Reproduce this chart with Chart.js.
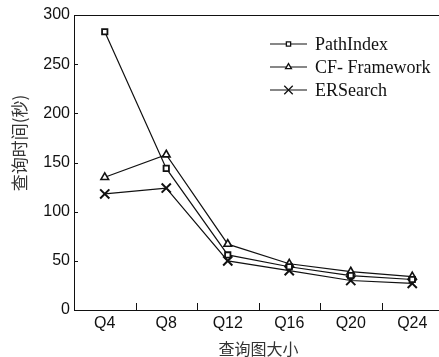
<!DOCTYPE html>
<html>
<head>
<meta charset="utf-8">
<script src="https://cdn.jsdelivr.net/npm/chart.js@4/dist/chart.umd.min.js"></script>
<style>
  html, body { margin: 0; padding: 0; background: #fff; overflow: hidden; }
  #wrap { position: absolute; left: 0; top: 0; width: 460px; height: 357px; }
</style>
</head>
<body>
<div id="wrap"><canvas id="c" width="460" height="357"></canvas></div>
<script>
// Query graph sizes on the x axis
const categories = ['Q4', 'Q8', 'Q12', 'Q16', 'Q20', 'Q24'];

// Query time in seconds for each method
const pathIndex   = [283, 144, 56, 44, 35, 31];
const cfFramework = [135, 158, 67, 47, 39, 34];
const erSearch    = [118, 124, 50, 40, 30, 27];

const yTicks = [0, 50, 100, 150, 200, 250, 300];
const seriesNames = ['PathIndex', 'CF- Framework', 'ERSearch'];
const xTitle = '查询图大小';
const yTitle = '查询时间(秒)';

const tickFont = { family: '"Liberation Sans", Arial, sans-serif', size: 16 };
const legendFont = '18px "Liberation Serif", "Times New Roman", serif';
const xTitleFont = '16px "Noto Sans CJK SC", sans-serif';
const yTitleFont = '17px "Noto Sans CJK SC", sans-serif';

const markers = [
  { pointStyle: 'rect',     radius: 3.8, borderWidth: 1.8, legendRadius: 3 },
  { pointStyle: 'triangle', radius: 4.4, borderWidth: 1.6, legendRadius: 3.4 },
  { pointStyle: 'crossRot', radius: 6.5, borderWidth: 2,   legendRadius: 6 }
];

function makeDataset(name, values, m) {
  return {
    label: name,
    data: values,
    borderColor: '#111',
    borderWidth: 1.2,
    backgroundColor: '#fff',
    pointStyle: m.pointStyle,
    pointRadius: m.radius,
    pointHoverRadius: m.radius,
    pointBorderWidth: m.borderWidth,
    pointBorderColor: '#111',
    pointBackgroundColor: '#fff',
    tension: 0,
    fill: false
  };
}

// Frame, inward ticks, in-plot legend and axis titles
const decorations = {
  id: 'decorations',
  afterDraw(chart) {
    const { ctx, chartArea: a, scales } = chart;
    const xs = scales.x, ys = scales.y;
    ctx.save();
    ctx.strokeStyle = '#111';
    ctx.lineWidth = 1;

    // top frame line
    ctx.beginPath();
    ctx.moveTo(a.left, Math.round(a.top) + 0.5);
    ctx.lineTo(chart.width, Math.round(a.top) + 0.5);
    ctx.stroke();

    // inward y ticks
    yTicks.forEach(v => {
      const y = Math.round(ys.getPixelForValue(v)) + 0.5;
      ctx.beginPath();
      ctx.moveTo(a.left, y);
      ctx.lineTo(a.left + 4, y);
      ctx.stroke();
    });

    // inward x ticks between categories
    for (let i = 0; i < categories.length - 1; i++) {
      const x = Math.round((xs.getPixelForValue(i) + xs.getPixelForValue(i + 1)) / 2) + 0.5;
      ctx.beginPath();
      ctx.moveTo(x, a.bottom);
      ctx.lineTo(x, a.bottom - 7);
      ctx.stroke();
    }

    // legend
    const rowsY = [44, 67, 90];
    const lx0 = 270, lx1 = 307, tx = 315;
    chart.data.datasets.forEach((ds, i) => {
      const y = rowsY[i];
      ctx.strokeStyle = '#111';
      ctx.lineWidth = 1.2;
      ctx.beginPath();
      ctx.moveTo(lx0, y);
      ctx.lineTo(lx1, y);
      ctx.stroke();
      const m = markers[i];
      ctx.fillStyle = '#fff';
      ctx.lineWidth = 1.3;
      Chart.helpers.drawPoint(ctx, {
        pointStyle: m.pointStyle,
        radius: m.legendRadius,
        rotation: 0,
        borderWidth: 1.3
      }, (lx0 + lx1) / 2, y);
      ctx.fillStyle = '#111';
      ctx.font = legendFont;
      ctx.textAlign = 'left';
      ctx.textBaseline = 'middle';
      ctx.fillText(ds.label, tx, y + 1);
    });

    // axis titles
    ctx.fillStyle = '#333';
    ctx.textAlign = 'center';
    ctx.textBaseline = 'middle';
    ctx.font = xTitleFont;
    ctx.fillText(xTitle, (a.left + a.right) / 2, 349);

    ctx.font = yTitleFont;
    ctx.translate(20, 143);
    ctx.rotate(-Math.PI / 2);
    ctx.fillText(yTitle, 0, 0);
    ctx.restore();
  }
};

new Chart(document.getElementById('c'), {
  type: 'line',
  data: {
    labels: categories,
    datasets: [
      makeDataset(seriesNames[0], pathIndex, markers[0]),
      makeDataset(seriesNames[1], cfFramework, markers[1]),
      makeDataset(seriesNames[2], erSearch, markers[2])
    ]
  },
  options: {
    responsive: false,
    animation: false,
    events: [],
    layout: { padding: { left: 0, right: 17, top: 15, bottom: 0 } },
    plugins: { legend: { display: false }, tooltip: { enabled: false } },
    scales: {
      x: {
        type: 'category',
        offset: true,
        grid: { display: false, drawTicks: false },
        border: { display: true, color: '#111', width: 1 },
        ticks: { color: '#111', font: tickFont, padding: 4, autoSkip: false, maxRotation: 0 },
        afterFit(s) { s.height = 47; }
      },
      y: {
        min: 0,
        max: 300,
        afterBuildTicks(s) { s.ticks = yTicks.map(v => ({ value: v })); },
        grid: { display: false, drawTicks: false },
        border: { display: true, color: '#111', width: 1 },
        ticks: { color: '#111', font: tickFont, padding: 4 },
        afterFit(s) { s.width = 74; }
      }
    }
  },
  plugins: [decorations]
});
</script>
</body>
</html>
